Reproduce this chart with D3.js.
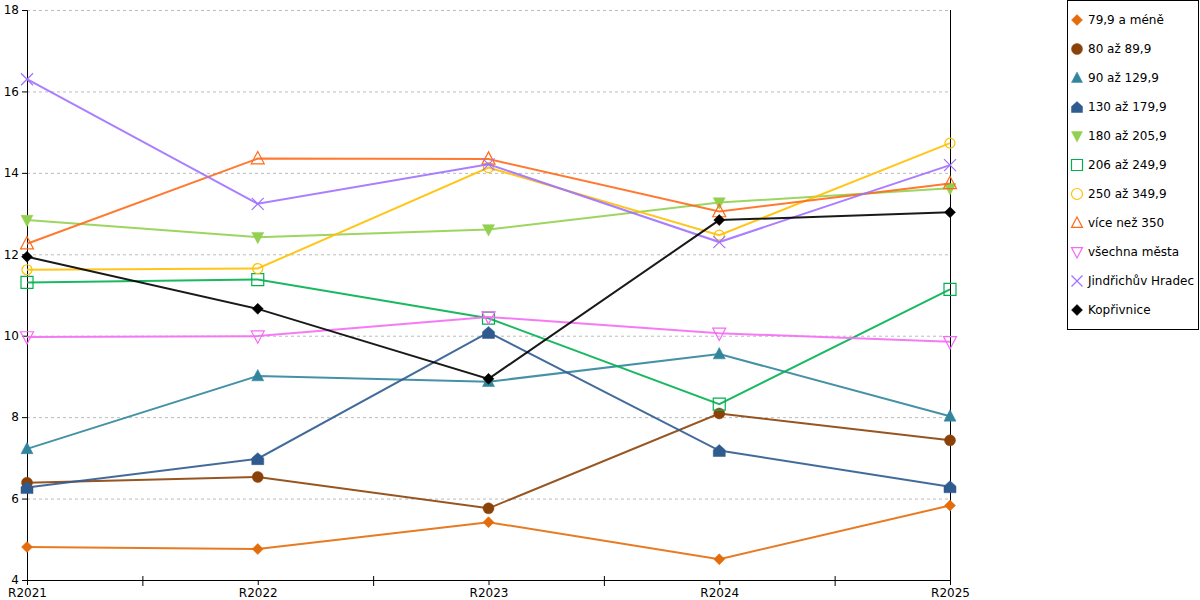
<!DOCTYPE html>
<html>
<head>
<meta charset="utf-8">
<script src="https://cdn.jsdelivr.net/npm/d3@7"></script>
<style>
  body { margin: 0; background: #fff; }
  svg { font-family: "DejaVu Sans", sans-serif; }
</style>
</head>
<body>
<div class="chart"></div>
<script>
// data
const years = ["R2021", "R2022", "R2023", "R2024", "R2025"];
const yTicks = [4, 6, 8, 10, 12, 14, 16, 18];

const names = ["79,9 a méně", "80 až 89,9", "90 až 129,9", "130 až 179,9", "180 až 205,9",
  "206 až 249,9", "250 až 349,9", "více než 350", "všechna města", "Jindřichův Hradec", "Kopřivnice"];

const s799 = [4.81, 4.76, 5.42, 4.51, 5.83];
const s80 = [6.39, 6.53, 5.76, 8.09, 7.43];
const s90 = [7.22, 9.01, 8.87, 9.55, 8.02];
const s130 = [6.27, 6.98, 10.08, 7.18, 6.29];
const s180 = [12.84, 12.42, 12.61, 13.27, 13.62];
const s206 = [11.31, 11.38, 10.43, 8.32, 11.14];
const s250 = [11.62, 11.65, 14.13, 12.47, 14.73];
const s350 = [12.26, 14.35, 14.34, 13.05, 13.74];
const sAll = [9.97, 9.99, 10.46, 10.06, 9.85];
const sJH = [16.30, 13.24, 14.21, 12.30, 14.19];
const sKop = [11.94, 10.66, 8.94, 12.84, 13.03];

const values = [s799, s80, s90, s130, s180, s206, s250, s350, sAll, sJH, sKop];
const colors = ["#e46c0a", "#8b4209", "#31859c", "#2f5b8f", "#92d050",
  "#00b050", "#ffc000", "#ff6a1a", "#f56bf5", "#a070ff", "#000000"];
const shapes = ["diamond", "circle", "triangle", "house", "triangleDown",
  "square", "circle", "triangle", "triangleDown", "cross", "diamond"];
const filled = [true, true, true, true, true, false, false, false, false, false, true];

// setup
const width = 1200;
const height = 600;
const margin = { top: 10, bottom: 20, left: 27, right: 250 };

const svg = d3.select('.chart')
  .append('svg')
  .attr('width', width)
  .attr('height', height);

const x = d3.scalePoint()
  .domain(years)
  .range([margin.left, width - margin.right]);

const xi = d3.scaleLinear()
  .domain([0, years.length - 1])
  .range([margin.left, width - margin.right]);

const y = d3.scaleLinear()
  .domain([4, 18])
  .range([height - margin.bottom, margin.top]);

// grid
svg.append("g")
  .selectAll("line")
  .data(yTicks.slice(1))
  .join("line")
  .attr("x1", margin.left)
  .attr("x2", width - margin.right)
  .attr("y1", d => y(d) + 0.5)
  .attr("y2", d => y(d) + 0.5)
  .attr("stroke", "#bbb")
  .attr("stroke-dasharray", "3,3");

// axes
const yAxis = g => {
  g.attr("transform", `translate(${margin.left}, 0)`)
  .call(d3.axisLeft(y).tickValues(yTicks).tickSize(5).tickPadding(3))
  .attr("font-size", '12px')
  .attr("font-family", "DejaVu Sans")
}

const xAxis = g => {
  g.attr("transform", `translate(0,${height - margin.bottom})`)
  .call(d3.axisBottom(x).tickSize(5).tickPadding(3))
  .attr("font-size", '12px')
  .attr("font-family", "DejaVu Sans")
}

svg.append("g").call(xAxis);
svg.append("g").call(yAxis);

// minor x ticks in between categories
svg.append("g")
  .attr("transform", `translate(0,${height - margin.bottom - 4})`)
  .call(d3.axisBottom(xi).tickValues([0.5, 1.5, 2.5, 3.5]).tickFormat("").tickSize(10))
  .call(g => g.select(".domain").remove());

// right side line
svg.append("line")
  .attr("x1", width - margin.right + 0.5)
  .attr("x2", width - margin.right + 0.5)
  .attr("y1", margin.top)
  .attr("y2", height - margin.bottom)
  .attr("stroke", "black");

// marker shapes
const symbolPath = (shape, s) => {
  if (shape === "diamond") return `M0,${-s}L${s},0L0,${s}L${-s},0Z`;
  if (shape === "circle") return d3.symbol(d3.symbolCircle, Math.PI * s * s)();
  if (shape === "triangle") return `M0,${-s * 1.1}L${s},${s * 0.8}L${-s},${s * 0.8}Z`;
  if (shape === "triangleDown") return `M0,${s * 1.1}L${s},${-s * 0.8}L${-s},${-s * 0.8}Z`;
  if (shape === "house") return `M0,${-s}L${s},${-s * 0.1}L${s},${s}L${-s},${s}L${-s},${-s * 0.1}Z`;
  if (shape === "square") return `M${-s},${-s}H${s}V${s}H${-s}Z`;
  if (shape === "cross") return `M${-s},${-s}L${s},${s}M${s},${-s}L${-s},${s}`;
};
const markerSize = [5.5, 5.5, 6, 6, 6, 6, 5, 6.5, 6.5, 6, 5.5];

const line = d3.line()
  .x((d, i) => x(years[i]))
  .y(d => y(d));

values.forEach((vals, k) => {
  const g = svg.append("g");
  g.append("path")
    .datum(vals)
    .attr("d", line)
    .attr("fill", "none")
    .attr("stroke", colors[k])
    .attr("stroke-opacity", 0.9)
    .attr("stroke-width", 2);
  g.selectAll("path.m")
    .data(vals)
    .join("path")
    .attr("class", "m")
    .attr("transform", (d, i) => `translate(${x(years[i])},${y(d)})`)
    .attr("d", symbolPath(shapes[k], markerSize[k]))
    .attr("fill", filled[k] ? colors[k] : "none")
    .attr("stroke", colors[k])
    .attr("stroke-width", filled[k] ? 0.5 : 1.2);
});

// legend
const legend = svg.append("g");
legend.append("rect")
  .attr("x", 1067.5)
  .attr("y", 0.5)
  .attr("width", 131)
  .attr("height", 329)
  .attr("fill", "white")
  .attr("stroke", "black");

const item = legend.selectAll("g.item")
  .data(names)
  .join("g")
  .attr("class", "item")
  .attr("transform", (d, i) => `translate(1077,${20 + i * 29})`);

item.append("path")
  .attr("d", (d, i) => symbolPath(shapes[i], 5.5))
  .attr("fill", (d, i) => filled[i] ? colors[i] : "none")
  .attr("stroke", (d, i) => colors[i])
  .attr("stroke-width", (d, i) => filled[i] ? 0.5 : 1.2);

item.append("text")
  .attr("x", 11)
  .attr("dy", "0.35em")
  .attr("font-size", "12px")
  .text(d => d);
</script>
</body>
</html>
